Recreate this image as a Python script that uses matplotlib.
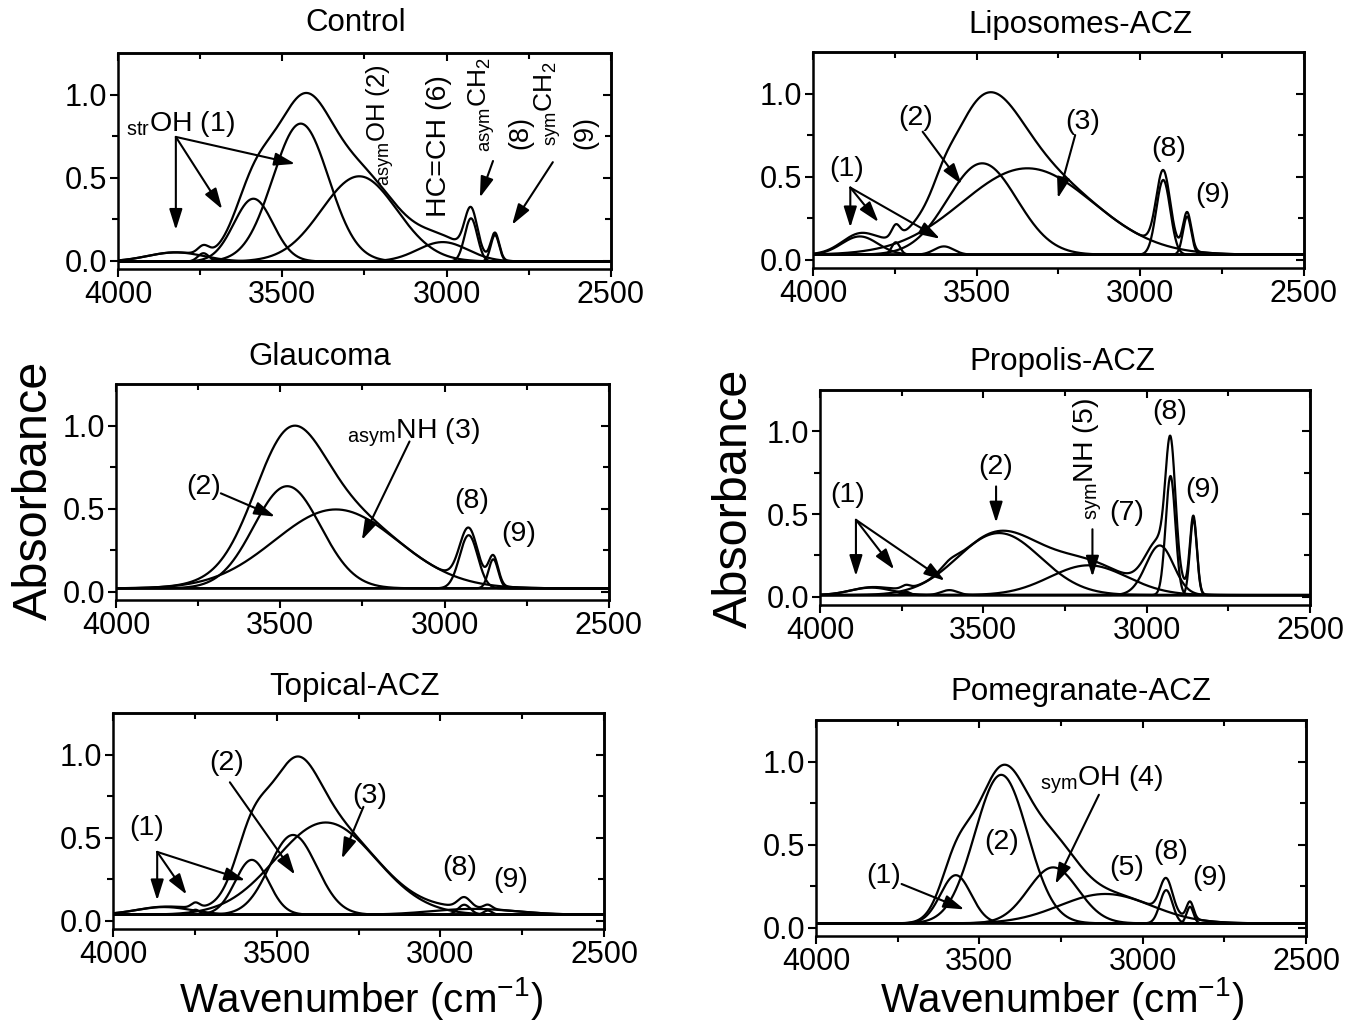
"""Deconvoluted FTIR bands 4000-2500 cm-1: six panels of Gaussian components."""
import numpy as np
import matplotlib
matplotlib.use("Agg")
import matplotlib.pyplot as plt

W, H = 1362, 1022

# ----- data: Gaussian components -----
# centre (cm-1), height (absorbance), FWHM (cm-1), plus flat baseline
control_centers = [3825, 3740, 3588, 3444, 3266, 3012, 2926, 2853]
control_heights = [0.055, 0.05, 0.378, 0.83, 0.513, 0.117, 0.26, 0.16]
control_fwhm = [200, 40, 140, 200, 270, 180, 45, 30]
control_base = -0.005

lipo_centers = [3857, 3747, 3600, 3483, 3345, 2930, 2857]
lipo_heights = [0.11, 0.075, 0.05, 0.55, 0.52, 0.45, 0.23]
lipo_fwhm = [130, 30, 70, 250, 470, 50, 30]
lipo_base = 0.03

glau_centers = [3479, 3331, 2927, 2852]
glau_heights = [0.615, 0.475, 0.32, 0.175]
glau_fwhm = [240, 440, 65, 35]
glau_base = 0.02

prop_centers = [3843, 3737, 3604, 3452, 3178, 2960, 2927, 2857]
prop_heights = [0.045, 0.02, 0.03, 0.375, 0.18, 0.30, 0.72, 0.46]
prop_fwhm = [150, 30, 60, 300, 280, 100, 35, 25]
prop_base = 0.01

topi_centers = [3844, 3748, 3576, 3450, 3350, 2900, 2927, 2855]
topi_heights = [0.046, 0.03, 0.33, 0.48, 0.555, 0.035, 0.06, 0.025]
topi_fwhm = [200, 30, 120, 170, 360, 300, 45, 30]
topi_base = 0.036

pome_centers = [3572, 3433, 3274, 3114, 2928, 2855]
pome_heights = [0.29, 0.894, 0.337, 0.177, 0.2, 0.1]
pome_fwhm = [110, 190, 180, 330, 45, 25]
pome_base = 0.026

titles = ["Control", "Liposomes-ACZ", "Glaucoma",
          "Propolis-ACZ", "Topical-ACZ", "Pomegranate-ACZ"]

plt.rcParams["font.family"] = ["Liberation Sans", "DejaVu Sans"]
plt.rcParams["mathtext.fontset"] = "custom"
plt.rcParams["mathtext.rm"] = "Liberation Sans"
plt.rcParams["mathtext.it"] = "Liberation Sans:italic"
plt.rcParams["mathtext.bf"] = "Liberation Sans:bold"

LW = 1.6
TICK_FS = 22
NOTE_FS = 20.5
wn = np.linspace(4000, 2500, 1501)


def gauss(x, c, h, w):
    return h * np.exp(-4 * np.log(2) * (x - c) ** 2 / w ** 2)


def px_axes(fig, left, top, right, bottom):
    return fig.add_axes([left / W, 1 - bottom / H, (right - left) / W,
                         (bottom - top) / H])


def draw_panel(ax, centers, heights, fwhm, base):
    total = np.full_like(wn, base)
    ax.plot(wn, np.full_like(wn, base), color="k", lw=LW)
    for c, h, w in zip(centers, heights, fwhm):
        comp = gauss(wn, c, h, w)
        total += comp
        ax.plot(wn, base + comp, color="k", lw=LW)
    ax.plot(wn, total, color="k", lw=LW)

    ax.set_xlim(4000, 2500)
    ax.set_ylim(-0.05, 1.25)
    ax.set_xticks([4000, 3500, 3000, 2500])
    ax.set_xticks([3750, 3250, 2750], minor=True)
    ax.set_yticks([0.0, 0.5, 1.0])
    ax.set_yticks([0.25, 0.75], minor=True)
    ax.set_yticklabels(["0.0", "0.5", "1.0"])
    ax.tick_params(which="both", direction="out", width=1.5,
                   labelsize=TICK_FS, pad=2)
    ax.tick_params(which="major", length=6)
    ax.tick_params(which="minor", length=4)
    for sp in ax.spines.values():
        sp.set_linewidth(1.8)

    # mirrored ticks pointing inwards
    sx = ax.secondary_xaxis("top")
    sx.set_xticks([4000, 3500, 3000, 2500])
    sx.set_xticks([3750, 3250, 2750], minor=True)
    sx.tick_params(which="both", direction="in", width=1.5, labeltop=False)
    sx.tick_params(which="major", length=6)
    sx.tick_params(which="minor", length=4)
    sy = ax.secondary_yaxis("right")
    sy.set_yticks([0.0, 0.5, 1.0])
    sy.set_yticks([0.25, 0.75], minor=True)
    sy.tick_params(which="both", direction="in", width=1.5, labelright=False)
    sy.tick_params(which="major", length=6)
    sy.tick_params(which="minor", length=4)
    for s in (sx, sy):
        for sp in s.spines.values():
            sp.set_linewidth(1.8)


def arrow(ax, x0, y0, x1, y1):
    ax.annotate("", xy=(x1, y1), xytext=(x0, y0),
                arrowprops=dict(arrowstyle="-|>,head_length=0.7,head_width=0.22",
                                color="k", lw=1.5, shrinkA=0, shrinkB=0,
                                mutation_scale=18))


def lab(ax, x, y, s, size=NOTE_FS, **kw):
    kw.setdefault("ha", "center")
    kw.setdefault("va", "center")
    ax.text(x, y, s, fontsize=size, **kw)


def vlab(ax, x, y, s, size=20.5):
    ax.text(x, y, s, fontsize=size, rotation=90, ha="center", va="bottom")


def main():
    fig = plt.figure(figsize=(W / 100, H / 100), dpi=100)

    # --- Control ---
    ax = px_axes(fig, 118, 53, 611, 269)
    draw_panel(ax, control_centers, control_heights, control_fwhm, control_base)
    ax.text(3975, 0.78, r"$_{\mathrm{str}}$OH (1)", fontsize=20.5,
            ha="left", va="baseline")
    arrow(ax, 3824, 0.745, 3824, 0.185)
    arrow(ax, 3824, 0.745, 3683, 0.31)
    arrow(ax, 3824, 0.745, 3461, 0.583)
    vlab(ax, 3203, 0.447, r"$_{\mathrm{asym}}$OH (2)", size=18.5)
    vlab(ax, 3023, 0.264, "HC=CH (6)")
    vlab(ax, 2895, 0.654, r"$_{\mathrm{asym}}$CH$_2$", size=19)
    vlab(ax, 2777, 0.672, "(8)", size=19.5)
    vlab(ax, 2692, 0.69, r"$_{\mathrm{sym}}$CH$_2$", size=19)
    vlab(ax, 2579, 0.672, "(9)", size=19.5)
    arrow(ax, 2859, 0.60, 2899, 0.38)
    arrow(ax, 2677, 0.593, 2801, 0.216)

    # --- Liposomes-ACZ ---
    ax = px_axes(fig, 813, 52, 1304, 268)
    draw_panel(ax, lipo_centers, lipo_heights, lipo_fwhm, lipo_base)
    lab(ax, 3897, 0.546, "(1)")
    arrow(ax, 3886, 0.434, 3886, 0.194)
    arrow(ax, 3886, 0.434, 3800, 0.226)
    arrow(ax, 3886, 0.434, 3612, 0.126)
    lab(ax, 3685, 0.85, "(2)")
    arrow(ax, 3665, 0.77, 3546, 0.454)
    lab(ax, 3175, 0.83, "(3)")
    arrow(ax, 3199, 0.75, 3252, 0.37)
    lab(ax, 2914, 0.666, "(8)")
    lab(ax, 2780, 0.39, "(9)")

    # --- Glaucoma ---
    ax = px_axes(fig, 116, 384, 609, 600)
    draw_panel(ax, glau_centers, glau_heights, glau_fwhm, glau_base)
    lab(ax, 3734, 0.628, "(2)")
    arrow(ax, 3681, 0.592, 3516, 0.452)
    ax.text(3298, 0.924, r"$_{\mathrm{asym}}$NH (3)", fontsize=NOTE_FS,
            ha="left", va="baseline")
    arrow(ax, 3107, 0.904, 3252, 0.311)
    lab(ax, 2918, 0.548, "(8)")
    lab(ax, 2774, 0.347, "(9)")

    # --- Propolis-ACZ ---
    ax = px_axes(fig, 820, 390, 1310, 605)
    draw_panel(ax, prop_centers, prop_heights, prop_fwhm, prop_base)
    lab(ax, 3916, 0.616, "(1)")
    arrow(ax, 3890, 0.465, 3890, 0.125)
    arrow(ax, 3890, 0.465, 3773, 0.165)
    arrow(ax, 3890, 0.465, 3618, 0.097)
    lab(ax, 3461, 0.784, "(2)")
    arrow(ax, 3461, 0.667, 3461, 0.448)
    vlab(ax, 3180, 0.465, r"$_{\mathrm{sym}}$NH (5)")
    arrow(ax, 3166, 0.408, 3166, 0.121)
    lab(ax, 3060, 0.505, "(7)")
    lab(ax, 2930, 1.12, "(8)")
    lab(ax, 2830, 0.646, "(9)")

    # --- Topical-ACZ ---
    ax = px_axes(fig, 113, 713, 604, 929)
    draw_panel(ax, topi_centers, topi_heights, topi_fwhm, topi_base)
    lab(ax, 3897, 0.558, "(1)")
    arrow(ax, 3865, 0.414, 3865, 0.122)
    arrow(ax, 3865, 0.414, 3775, 0.157)
    arrow(ax, 3865, 0.414, 3596, 0.243)
    lab(ax, 3653, 0.95, "(2)")
    arrow(ax, 3643, 0.833, 3444, 0.277)
    lab(ax, 3216, 0.753, "(3)")
    arrow(ax, 3235, 0.685, 3301, 0.373)
    lab(ax, 2941, 0.317, "(8)")
    lab(ax, 2785, 0.247, "(9)")

    # --- Pomegranate-ACZ ---
    ax = px_axes(fig, 816, 720, 1306, 936)
    draw_panel(ax, pome_centers, pome_heights, pome_fwhm, pome_base)
    lab(ax, 3792, 0.311, "(1)")
    arrow(ax, 3738, 0.263, 3546, 0.11)
    lab(ax, 3433, 0.518, "(2)")
    ax.text(3314, 0.853, r"$_{\mathrm{sym}}$OH (4)", fontsize=NOTE_FS,
            ha="left", va="baseline")
    arrow(ax, 3134, 0.80, 3267, 0.263)
    lab(ax, 3048, 0.357, "(5)")
    lab(ax, 2915, 0.458, "(8)")
    lab(ax, 2796, 0.297, "(9)")

    # titles and shared axis labels
    title_pos = [(356, 23), (1080, 25), (320, 357),
                 (1062, 362), (354, 687), (1081, 692)]
    for t, (x, y) in zip(titles, title_pos):
        fig.text(x / W, 1 - y / H, t, fontsize=22.5, ha="center", va="center")
    for x, y in [(34, 490), (734, 498)]:
        fig.text(x / W, 1 - y / H, "Absorbance", fontsize=35, rotation=90,
                 ha="center", va="center")
    for x, y in [(361, 998), (1062, 998)]:
        fig.text(x / W, 1 - y / H, r"Wavenumber (cm$^{\mathrm{-1}}$)",
                 fontsize=29, ha="center", va="center")

    fig.savefig("out.png", dpi=100, facecolor="white")
    plt.close(fig)
    return 0


if __name__ == "__main__":
    raise SystemExit(main())
